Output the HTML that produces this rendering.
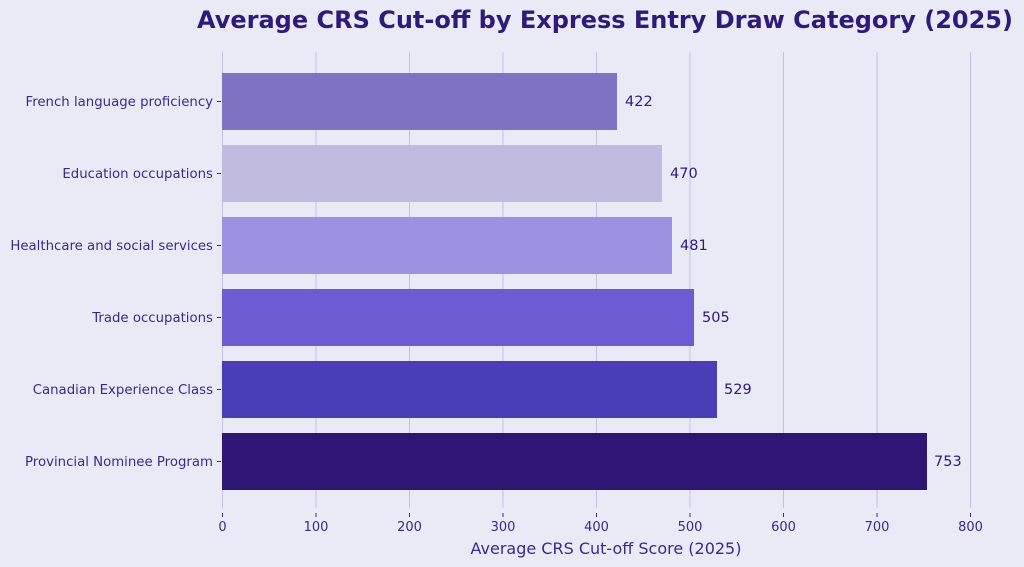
<!DOCTYPE html>
<html><head><meta charset="utf-8"><style>
html,body{margin:0;padding:0;background:#EAEAF6;}
svg{display:block;font-family:"DejaVu Sans","Liberation Sans",sans-serif;}
</style></head><body>
<svg width="1024" height="567" viewBox="0 0 1024 567" xmlns="http://www.w3.org/2000/svg">
<rect width="1024" height="567" fill="#EAEAF6"/>
<text x="605" y="28" text-anchor="middle" font-size="24" font-weight="bold" fill="#2E1A7A">Average CRS Cut-off by Express Entry Draw Category (2025)</text>
<g stroke="#C4C0E4" stroke-width="1">
<line x1="222.5" y1="52" x2="222.5" y2="508"/>
<line x1="316" y1="52" x2="316" y2="508"/>
<line x1="409.5" y1="52" x2="409.5" y2="508"/>
<line x1="503" y1="52" x2="503" y2="508"/>
<line x1="596.5" y1="52" x2="596.5" y2="508"/>
<line x1="690" y1="52" x2="690" y2="508"/>
<line x1="783.5" y1="52" x2="783.5" y2="508"/>
<line x1="877" y1="52" x2="877" y2="508"/>
<line x1="970.5" y1="52" x2="970.5" y2="508"/>
</g>
<g stroke="#3A2A8A" stroke-width="1">
<line x1="222.5" y1="513" x2="222.5" y2="517"/><line x1="316" y1="513" x2="316" y2="517"/>
<line x1="409.5" y1="513" x2="409.5" y2="517"/><line x1="503" y1="513" x2="503" y2="517"/>
<line x1="596.5" y1="513" x2="596.5" y2="517"/><line x1="690" y1="513" x2="690" y2="517"/>
<line x1="783.5" y1="513" x2="783.5" y2="517"/><line x1="877" y1="513" x2="877" y2="517"/>
<line x1="970.5" y1="513" x2="970.5" y2="517"/>
<line x1="217" y1="101.5" x2="221" y2="101.5"/><line x1="217" y1="173.5" x2="221" y2="173.5"/>
<line x1="217" y1="245.5" x2="221" y2="245.5"/><line x1="217" y1="317.5" x2="221" y2="317.5"/>
<line x1="217" y1="389.5" x2="221" y2="389.5"/><line x1="217" y1="461.5" x2="221" y2="461.5"/>
</g>
<rect x="222" y="73" width="395" height="57" fill="#7F72C3"/>
<rect x="222" y="145" width="440" height="57" fill="#C0BBDF"/>
<rect x="222" y="217" width="450" height="57" fill="#9B93E2"/>
<rect x="222" y="289" width="472" height="57" fill="#6B5CD4"/>
<rect x="222" y="361" width="495" height="57" fill="#4A3EB8"/>
<rect x="222" y="433" width="705" height="57" fill="#2E1675"/>
<g font-size="14.5" fill="#2E1A7A">
<text x="625" y="106">422</text><text x="670" y="178">470</text><text x="680" y="250">481</text>
<text x="702" y="322">505</text><text x="724" y="394">529</text><text x="934" y="466">753</text>
</g>
<g font-size="13.3" fill="#3A2A8A" text-anchor="end">
<text x="213" y="106">French language proficiency</text>
<text x="213" y="178">Education occupations</text>
<text x="213" y="250">Healthcare and social services</text>
<text x="213" y="322">Trade occupations</text>
<text x="213" y="394">Canadian Experience Class</text>
<text x="213" y="466">Provincial Nominee Program</text>
</g>
<g font-size="13" fill="#3A2A8A" text-anchor="middle">
<text x="222.5" y="531">0</text><text x="316" y="531">100</text><text x="409.5" y="531">200</text>
<text x="503" y="531">300</text><text x="596.5" y="531">400</text><text x="690" y="531">500</text>
<text x="783.5" y="531">600</text><text x="877" y="531">700</text><text x="970.5" y="531">800</text>
</g>
<text x="606" y="554" text-anchor="middle" font-size="16" fill="#3A2A8A">Average CRS Cut-off Score (2025)</text>
</svg>
</body></html>
